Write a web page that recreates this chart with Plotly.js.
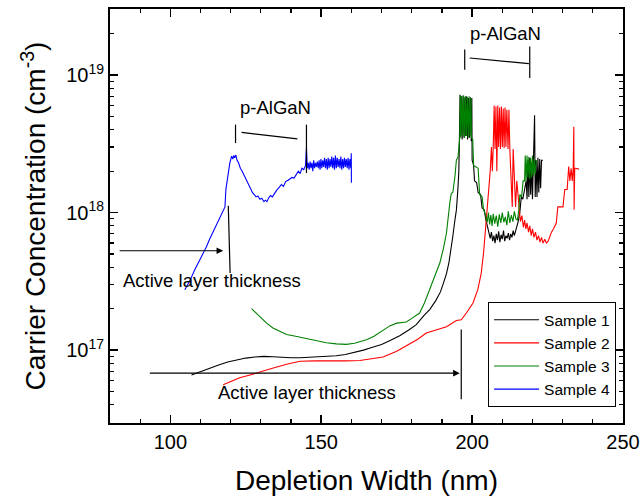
<!DOCTYPE html>
<html>
<head>
<meta charset="utf-8">
<script src="https://cdn.plot.ly/plotly-3.0.1.min.js"></script>
<style>html,body{margin:0;padding:0;background:#fff;}#chart{width:643px;height:498px;}</style>
</head>
<body>
<div id="chart"></div>
<script>
// ---- Data ----
var seriesNames = ['Sample 1', 'Sample 2', 'Sample 3', 'Sample 4'];
var seriesColors = ['#000000', '#ff0000', '#008000', '#0000ff'];

// Sample 1 (black)
var s1x = [107,110,113,116,119,122,125,128,131,134,137,140,143,146,149,152,155,158,161,164,167,170,173,176,179,181.5,184,186,188,189.5,190.5,191.5,192.3,193,193.6,194.2,194.8,195.3,
  195.6,195.8,196.0,196.2,196.4,196.7,197.0,197.3,197.6,197.9,198.2,198.5,198.8,199.1,199.4,199.7,199.9,200.0,200.5,200.8,201.5,202.0,202.8,203.3,204.0,204.5,205.0,205.5,
  206.0,206.4,206.8,207.2,207.6,208.0,208.4,208.8,209.2,209.6,210.0,210.4,210.8,211.2,211.6,212.0,212.4,212.8,213.2,213.6,214.0,214.6,215.2,215.8,216.3,216.8,217.4,217.9,
  218.2,218.5,218.8,219.1,219.4,219.7,220.0,220.4,220.7,220.9,221.2,221.5,221.8,222.1,222.4,222.7,223.0,223.5];
var s1y = [6.6e16,7.0e16,7.4e16,7.8e16,8.2e16,8.5e16,8.75e16,8.9e16,9.0e16,8.95e16,8.85e16,8.8e16,8.8e16,8.85e16,8.9e16,9.0e16,9.1e16,9.3e16,9.6e16,1.0e17,1.05e17,1.1e17,1.18e17,1.27e17,1.4e17,1.53e17,1.78e17,1.98e17,2.3e17,2.65e17,3.07e17,3.6e17,4.3e17,5.3e17,6.7e17,8.5e17,1.05e18,1.5e18,
  2.0e18,3.5e18,7.2e18,3.6e18,7.0e18,3.4e18,7.1e18,3.5e18,6.9e18,3.6e18,7.0e18,3.4e18,6.8e18,3.5e18,6.9e18,3.3e18,6.8e18,2.4e18,2.2e18,1.7e18,1.65e18,1.4e18,1.35e18,1.08e18,1.05e18,9.0e17,8.0e17,7.2e17,
  6.5e17,7.2e17,6.2e17,6.8e17,6.0e17,7.0e17,6.3e17,7.3e17,6.1e17,6.9e17,6.4e17,7.4e17,6.2e17,6.8e17,6.5e17,7.1e17,6.3e17,7.0e17,6.6e17,7.4e17,6.8e17,7.6e17,8.5e17,1.0e18,1.3e18,1.25e18,1.47e18,1.7e18,
  1.25e18,2.4e18,1.3e18,2.5e18,1.35e18,2.3e18,1.25e18,2.4e18,5.1e18,1.3e18,2.4e18,1.3e18,2.5e18,1.4e18,2.45e18,1.5e18,2.4e18,2.4e18];

// Sample 2 (red)
var s2x = [117.5,120,123,126.4,130,134.1,138.5,143,148,153.9,158,162.8,166.5,170.5,175,179.3,182,184.8,188,191.5,194.8,196.4,198.1,200.3,201.9,203,203.8,204.5,204.9,205.6,206.0,
  206.4,206.7,207.0,207.3,207.6,207.9,208.2,208.5,208.8,209.1,209.4,209.7,210.0,210.3,210.6,210.9,211.2,211.5,211.9,212.2,212.5,213.0,213.3,213.6,214.0,214.4,214.8,215.2,215.5,
  216.0,216.5,217.0,217.4,217.8,218.2,218.7,219.1,219.6,220.0,220.5,221.0,221.5,222.0,222.5,223.0,223.5,224.1,224.6,225.2,225.7,226.3,226.8,227.3,227.9,228.4,229.2,230.1,230.7,231.5,
  232.0,232.4,232.8,233.2,233.5,233.7,233.8,234.0,234.3,235.4];
var s2y = [5.6e16,5.9e16,6.3e16,6.6e16,7.0e16,7.4e16,7.9e16,8.3e16,8.35e16,8.3e16,8.35e16,8.4e16,8.6e16,8.9e16,9.8e16,1.11e17,1.2e17,1.33e17,1.4e17,1.48e17,1.64e17,1.66e17,1.86e17,2.2e17,2.76e17,3.6e17,5.1e17,7.9e17,1.17e18,1.64e18,2.0e18,
  3.0e18,2.0e18,3.0e18,6.0e18,2.9e18,5.9e18,2.0e18,6.0e18,3.0e18,5.8e18,2.9e18,5.9e18,3.0e18,5.7e18,2.95e18,5.8e18,3.0e18,5.6e18,2.9e18,5.6e18,2.9e18,1.8e18,1.1e18,2.9e18,1.7e18,1.1e18,1.7e18,1.3e18,1.05e18,
  8.6e17,9.5e17,7.8e17,8.8e17,7.6e17,8.4e17,7.2e17,8.0e17,6.8e17,7.6e17,6.6e17,7.2e17,6.3e17,6.8e17,6.1e17,6.6e17,6.0e17,6.4e17,6.0e17,6.2e17,6.7e17,7.2e17,7.5e17,8.0e17,8.4e17,1.1e18,1.1e18,1.1e18,1.47e18,1.47e18,
  2.16e18,1.7e18,2.1e18,1.7e18,2.1e18,4.2e18,1.05e18,2.1e18,2.1e18,2.07e18];

// Sample 3 (green)
var s3x = [126.9,129,131.9,134,136.3,138.5,140.7,143,145.1,148,151.7,155,158.3,161,163,165,167.5,170,172.7,175,177,178.2,180,182.6,184.2,185.9,187.5,189.3,190.5,191.5,192.6,193.1,193.6,194.3,194.8,195.3,195.9,
  196.1,196.3,196.6,196.9,197.2,197.5,197.8,198.1,198.4,198.7,199.0,199.3,199.6,199.8,200.2,200.5,201.3,202.0,202.5,203.3,203.8,204.5,205.0,205.4,205.8,206.2,206.6,207.0,207.5,208.0,208.5,209.0,209.5,
  210.0,210.5,211.0,211.5,212.0,212.5,213.0,213.5,214.0,214.5,215.0,215.5,215.8,216.4,216.9,217.4,217.6,217.9,218.2,218.5,218.8,219.1,219.4,219.7,220.0,220.3,220.6,220.9,221.3];
var s3y = [2.0e17,1.8e17,1.57e17,1.45e17,1.37e17,1.3e17,1.27e17,1.24e17,1.22e17,1.17e17,1.13e17,1.11e17,1.1e17,1.12e17,1.15e17,1.19e17,1.26e17,1.38e17,1.5e17,1.57e17,1.58e17,1.6e17,1.7e17,1.86e17,2.2e17,2.76e17,3.4e17,4.3e17,5.5e17,7.1e17,1.17e18,1.38e18,1.4e18,1.82e18,2.42e18,2.5e18,3.5e18,
  7.1e18,3.5e18,7.0e18,3.6e18,7.1e18,3.5e18,7.0e18,3.6e18,6.9e18,3.5e18,7.0e18,3.6e18,6.8e18,3.5e18,3.4e18,2.2e18,2.15e18,2.1e18,1.35e18,1.3e18,1.05e18,9.5e17,8.5e17,1.0e18,8.2e17,9.6e17,8.0e17,9.8e17,8.3e17,9.5e17,7.9e17,9.7e17,8.4e17,
  1.0e18,8.5e17,9.3e17,8.1e17,1.02e18,8.4e17,9.6e17,8.6e17,1.02e18,9.0e17,8.8e17,1.05e18,1.35e18,1.3e18,1.7e18,1.7e18,2.6e18,1.7e18,2.6e18,1.8e18,2.55e18,1.75e18,2.5e18,1.8e18,2.6e18,1.85e18,2.45e18,1.9e18,2.4e18];

// Sample 4 (blue)
var s4x = [104.8,106.5,108,109.8,111,112,113,114.2,115.5,117,118.1,118.4,119.2,119.7,120.3,120.7,121.0,121.3,121.7,122.1,122.6,123.2,123.8,124.5,125.2,125.8,126.5,127.2,127.8,128.4,129.0,129.7,130.3,131.0,131.5,132.0,132.6,133.2,133.8,134.5,135.2,136.0,136.8,137.5,138.2,139.0,139.6,140.3,141.0,141.7,142.4,143.0,143.6,144.2,144.8,
  145.1,145.4,145.7,146.0,146.3,146.6,146.9,147.2,147.5,147.8,148.1,148.4,148.7,149.0,149.3,149.6,149.9,150.2,150.5,150.8,151.1,151.4,151.7,152.0,152.3,152.6,152.9,153.2,153.5,153.8,154.1,154.4,154.7,155.0,155.3,155.6,155.9,156.2,156.5,156.8,157.1,157.4,157.7,158.0,158.3,158.6,158.9,159.2,159.5,159.8,159.95,160.0];
var s4y = [2.75e17,3.2e17,3.8e17,4.5e17,5.1e17,5.66e17,6.4e17,7.3e17,8.2e17,9.9e17,1.1e18,1.47e18,1.94e18,2.29e18,2.57e18,2.45e18,2.6e18,2.5e18,2.62e18,2.4e18,2.3e18,2.1e18,2.0e18,1.85e18,1.72e18,1.6e18,1.5e18,1.4e18,1.35e18,1.3e18,1.32e18,1.25e18,1.27e18,1.2e18,1.23e18,1.2e18,1.28e18,1.33e18,1.3e18,1.38e18,1.45e18,1.52e18,1.6e18,1.55e18,1.68e18,1.72e18,1.75e18,1.8e18,1.78e18,1.9e18,2.0e18,1.92e18,2.1e18,2.05e18,2.2e18,
  2.95e18,2.1e18,2.3e18,2.05e18,2.35e18,2.1e18,2.3e18,2.0e18,2.4e18,2.1e18,2.3e18,2.15e18,2.35e18,2.1e18,2.4e18,2.05e18,2.45e18,2.1e18,2.4e18,2.15e18,2.5e18,2.1e18,2.45e18,2.05e18,2.5e18,2.1e18,2.45e18,2.15e18,2.55e18,2.1e18,2.5e18,2.05e18,2.6e18,2.1e18,2.5e18,2.15e18,2.45e18,2.1e18,2.55e18,2.05e18,2.45e18,2.1e18,2.5e18,2.15e18,2.45e18,2.1e18,2.5e18,2.05e18,2.45e18,2.1e18,2.7e18,1.65e18];

var xTickVals = [100, 150, 200, 250];
var yTickVals = [1e17, 1e18, 1e19];
var yTickText = ['10<sup>17</sup>', '10<sup>18</sup>', '10<sup>19</sup>'];

// Annotation bracket / marker lines [x0, y0, x1, y1] in data units
var bracketLines = [
  [121.6, 3.2e18, 121.6, 4.36e18],
  [145.1, 1.94e18, 145.1, 4.36e18],
  [123.6, 3.83e18, 142.1, 3.43e18],
  [119.8, 3.63e17, 119.2, 1.12e18],
  [196.4, 4.4e16, 196.4, 1.41e17],
  [197.55, 1.09e19, 197.55, 1.53e19],
  [219.1, 9.5e18, 219.1, 1.61e19],
  [199.2, 1.33e19, 218.8, 1.21e19]
];
// Arrows [headX, tailX, y]
var arrows = [
  [117.5, 82.7, 5.27e17],
  [195.9, 92.7, 6.8e16]
];
// Labels [text, x, y]
var labels = [
  ['p-AlGaN', 134.8, 5.8e18],
  ['p-AlGaN', 211.1, 2.02e19],
  ['Active layer thickness', 113.7, 3.22e17],
  ['Active layer thickness', 145.4, 4.9e16]
];

// ---- Build ----
var FONT = 'Liberation Sans, Arial, Helvetica, sans-serif';
var xs = [s1x, s2x, s3x, s4x];
var ys = [s1y, s2y, s3y, s4y];
var traces = xs.map(function (x, i) {
  return {
    x: x, y: ys[i], type: 'scatter', mode: 'lines', name: seriesNames[i],
    line: {color: seriesColors[i], width: 1.1}
  };
});

var shapes = bracketLines.map(function (b) {
  return {type: 'line', xref: 'x', yref: 'y', x0: b[0], y0: b[1], x1: b[2], y1: b[3],
    line: {color: '#000', width: 1.2}};
});

var annotations = [];
arrows.forEach(function (a) {
  annotations.push({
    x: a[0], y: Math.log10(a[2]), ax: a[1], ay: Math.log10(a[2]), xref: 'x', yref: 'y', axref: 'x', ayref: 'y',
    text: '', showarrow: true, arrowhead: 2, arrowsize: 1.2, arrowwidth: 1.1, arrowcolor: '#000'
  });
});
labels.forEach(function (l) {
  annotations.push({
    x: l[1], y: Math.log10(l[2]), xref: 'x', yref: 'y', text: l[0], showarrow: false,
    font: {family: FONT, size: 18.5, color: '#000'}, xanchor: 'center', yanchor: 'middle'
  });
});

var layout = {
  width: 643, height: 498,
  margin: {l: 110, r: 20, t: 9, b: 75},
  paper_bgcolor: '#fff', plot_bgcolor: '#fff',
  font: {family: FONT, color: '#000'},
  showlegend: true,
  legend: {
    x: 0.737, y: 0.292, xanchor: 'left', yanchor: 'top',
    bordercolor: '#000', borderwidth: 1, bgcolor: '#fff',
    font: {family: FONT, size: 15.5, color: '#000'},
    tracegroupgap: 0, itemwidth: 45
  },
  xaxis: {
    range: [80, 250], tickmode: 'array', tickvals: xTickVals,
    ticks: 'inside', ticklen: 8, tickwidth: 1.5, tickcolor: '#000',
    showline: true, linewidth: 2, linecolor: '#000', mirror: 'allticks',
    showgrid: false, zeroline: false,
    tickfont: {family: FONT, size: 20, color: '#000'},
    minor: {ticks: 'inside', ticklen: 4, tickwidth: 1.2, tickcolor: '#000', tick0: 0, dtick: 10, showgrid: false},
    title: {text: 'Depletion Width (nm)', font: {family: FONT, size: 28, color: '#000'}, standoff: 18}
  },
  yaxis: {
    type: 'log', range: [16.47, 19.48], tickmode: 'array', tickvals: yTickVals, ticktext: yTickText,
    ticks: 'inside', ticklen: 8, tickwidth: 1.5, tickcolor: '#000',
    showline: true, linewidth: 2, linecolor: '#000', mirror: 'allticks',
    showgrid: false, zeroline: false,
    tickfont: {family: FONT, size: 20, color: '#000'},
    minor: {ticks: 'inside', ticklen: 4, tickwidth: 1.2, tickcolor: '#000', dtick: 'D1', showgrid: false},
    title: {text: 'Carrier Concentration (cm<sup>-3</sup>)', font: {family: FONT, size: 28, color: '#000'}, standoff: 12}
  },
  shapes: shapes,
  annotations: annotations
};

Plotly.newPlot('chart', traces, layout, {displayModeBar: false, staticPlot: true});
</script>
</body>
</html>
